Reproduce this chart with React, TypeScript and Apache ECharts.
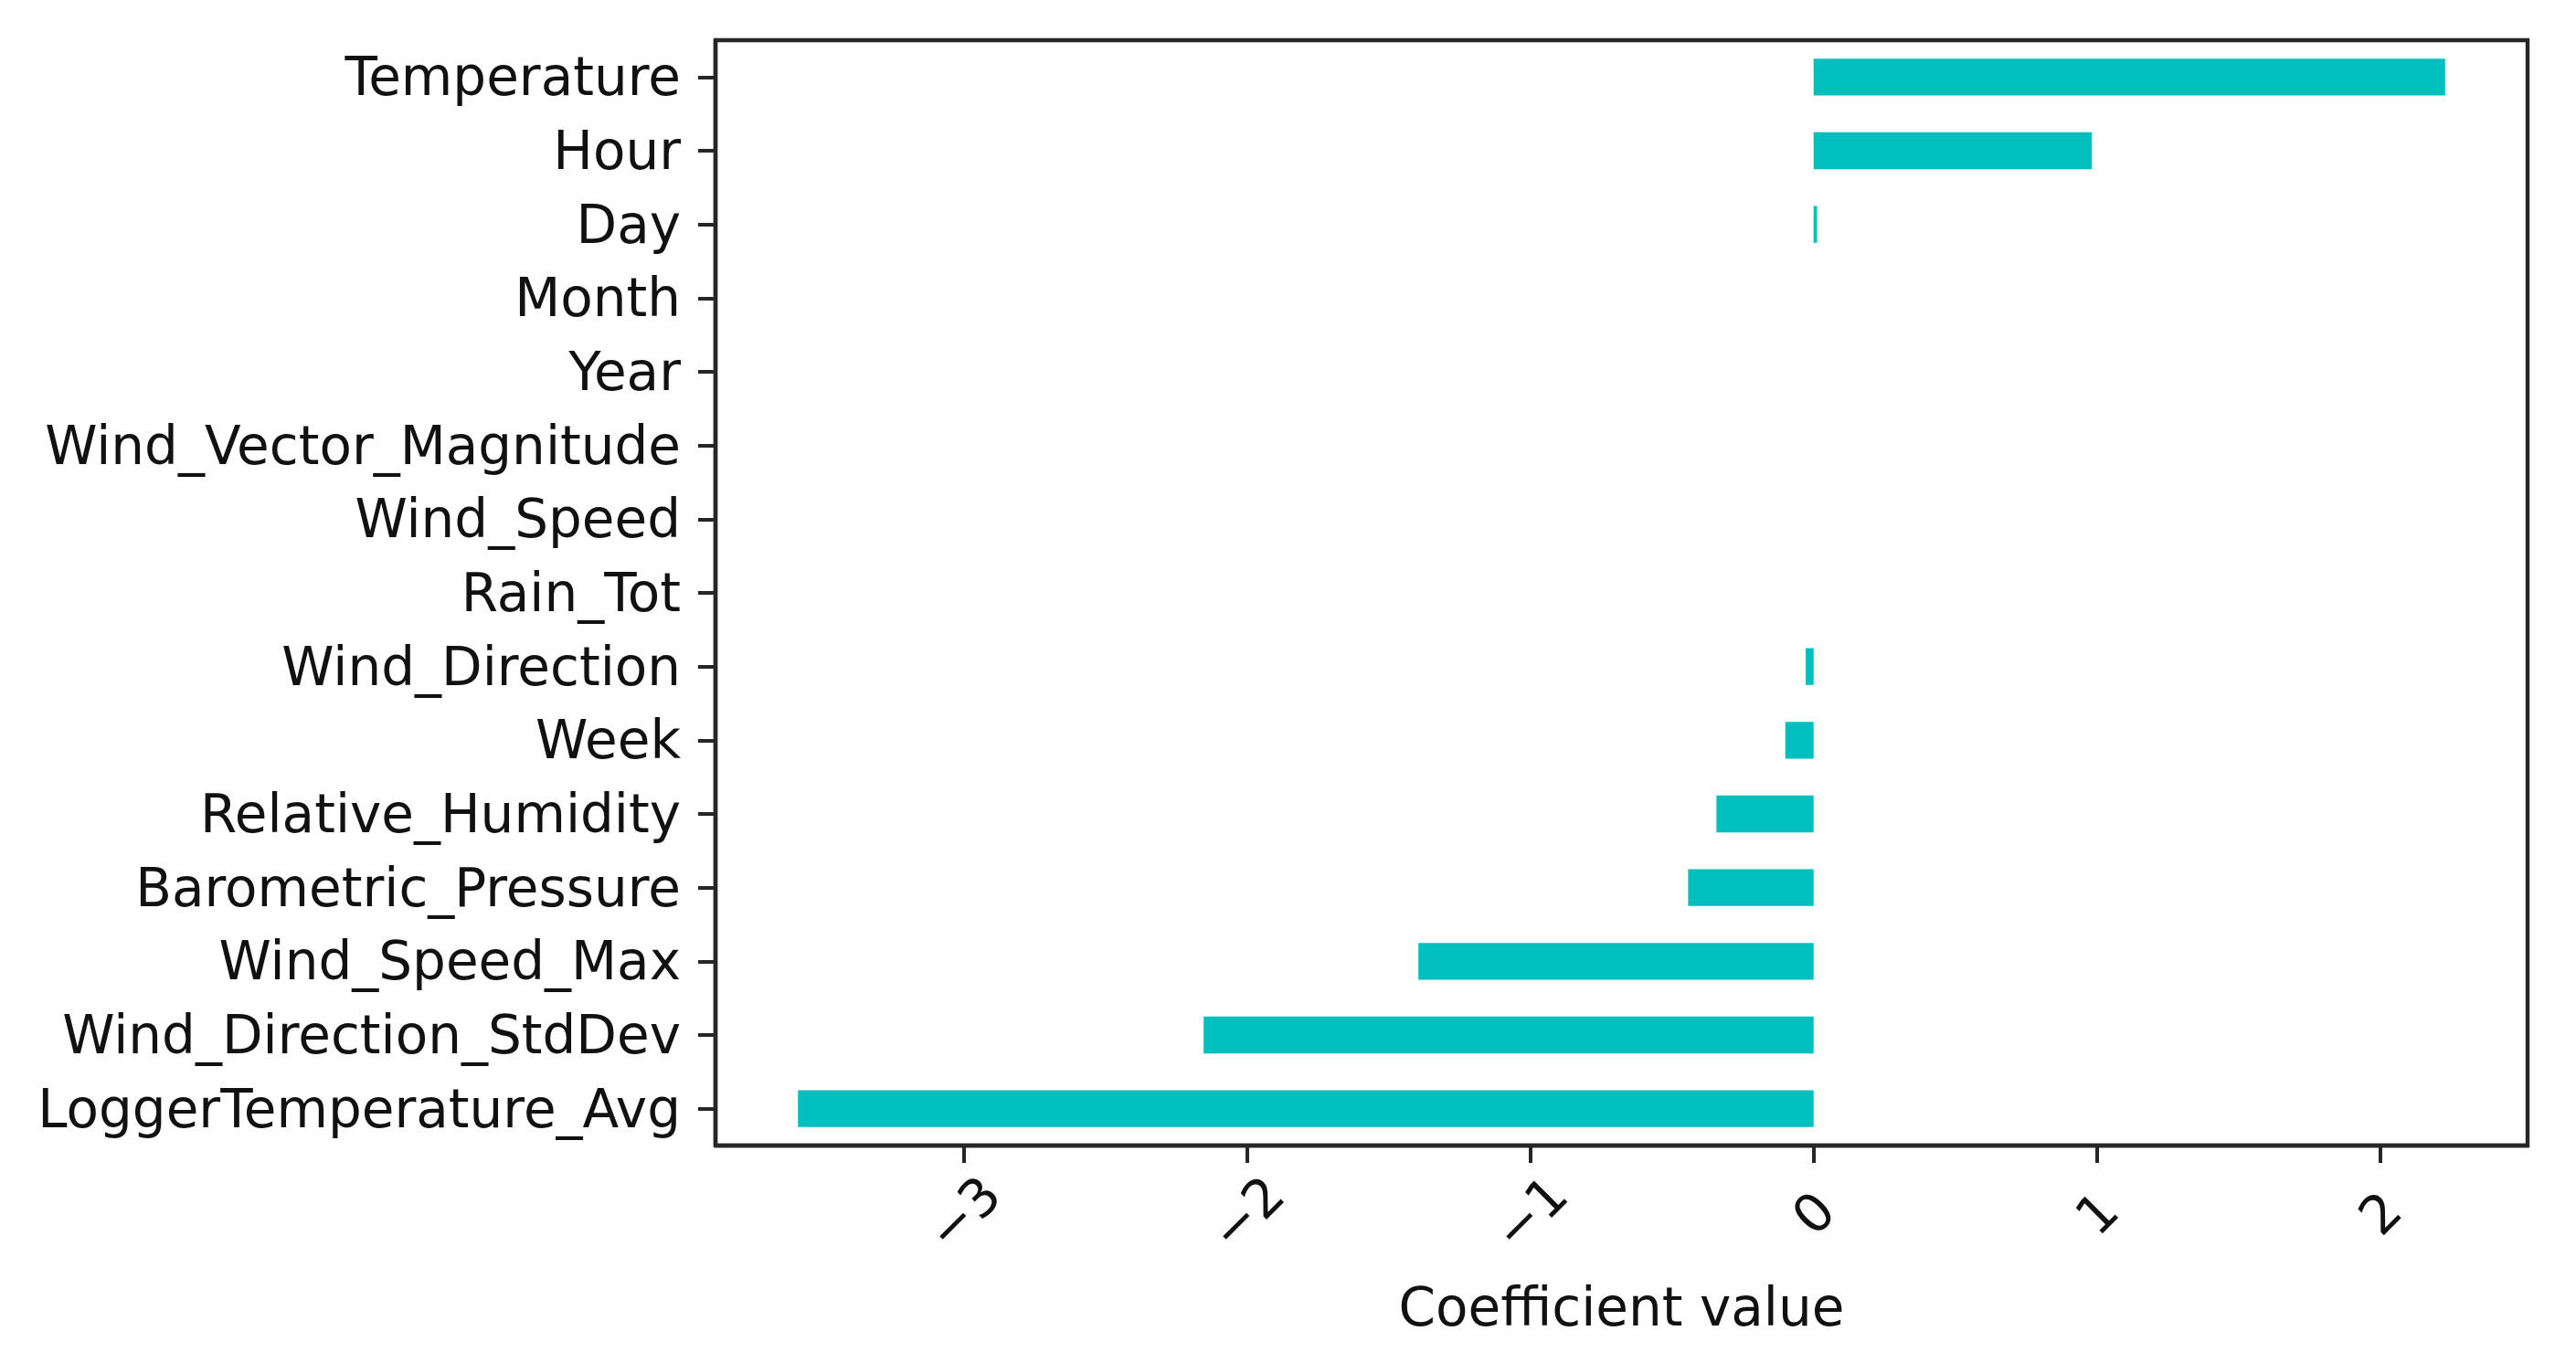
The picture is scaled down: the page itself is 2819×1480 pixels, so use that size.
import React, { useEffect, useRef } from "react";
import * as echarts from "echarts";

const categories = [
  "Temperature",
  "Hour",
  "Day",
  "Month",
  "Year",
  "Wind_Vector_Magnitude",
  "Wind_Speed",
  "Rain_Tot",
  "Wind_Direction",
  "Week",
  "Relative_Humidity",
  "Barometric_Pressure",
  "Wind_Speed_Max",
  "Wind_Direction_StdDev",
  "LoggerTemperature_Avg",
];

const coefficients = [
  2.229, 0.982, 0.012, 0, 0, 0, 0, 0, -0.028, -0.1, -0.343, -0.443, -1.395, -2.153, -3.585,
];

const xTicks = [-3, -2, -1, 0, 1, 2];
const xMin = -3.876;
const xMax = 2.52;

const FONT = "DejaVu Sans";
const FS = 58;

export default function App() {
  const ref = useRef<HTMLDivElement>(null);

  useEffect(() => {
    if (!ref.current) return;
    const chart = echarts.init(ref.current, null, { renderer: "svg" });
    chart.setOption({
      animation: false,
      backgroundColor: "#ffffff",
      grid: {
        left: 783,
        right: 53,
        top: 44,
        bottom: 226,
        show: true,
        borderColor: "#262626",
        borderWidth: 4.4,
        backgroundColor: "transparent",
      },
      xAxis: {
        type: "value",
        min: xMin,
        max: xMax,
        name: "Coefficient value",
        nameLocation: "middle",
        nameGap: 148,
        nameTextStyle: { fontFamily: FONT, fontSize: FS, color: "#111" },
        splitLine: { show: false },
        axisLine: { show: true, onZero: false, lineStyle: { color: "#262626", width: 4.4 } },
        axisTick: {
          show: true,
          length: 19,
          lineStyle: { color: "#262626", width: 4 },
          customValues: xTicks,
        },
        axisLabel: {
          customValues: xTicks,
          rotate: 45,
          align: "center",
          verticalAlign: "middle",
          margin: 74,
          fontFamily: FONT,
          fontSize: FS,
          color: "#111",
          formatter: (v: number) => (v < 0 ? "\u2212" + Math.abs(v) : String(v)),
        },
      },
      yAxis: {
        type: "category",
        inverse: true,
        data: categories,
        axisLine: { show: true, onZero: false, lineStyle: { color: "#262626", width: 4.4 } },
        axisTick: {
          show: true,
          alignWithLabel: true,
          length: 19,
          lineStyle: { color: "#262626", width: 4 },
        },
        axisLabel: {
          margin: 38,
          fontFamily: FONT,
          fontSize: FS,
          color: "#111",
        },
        splitLine: { show: false },
      },
      series: [
        {
          type: "bar",
          data: coefficients,
          barWidth: "50%",
          itemStyle: { color: "#00bfbf" },
        },
      ],
    });
    return () => chart.dispose();
  }, []);

  return (
    <div
      ref={ref}
      style={{ position: "fixed", left: 0, top: 0, width: 2819, height: 1480 }}
    />
  );
}
